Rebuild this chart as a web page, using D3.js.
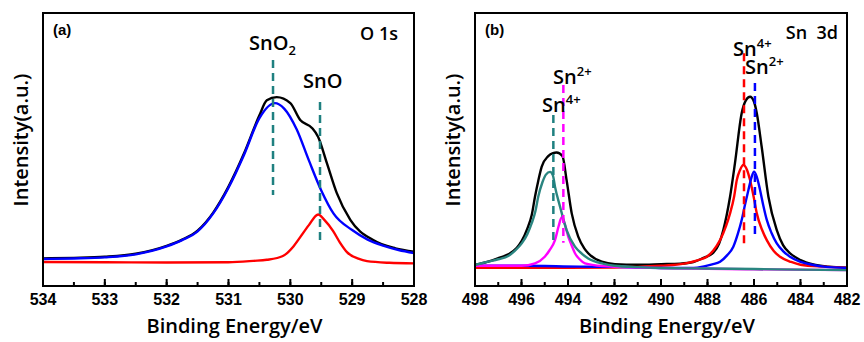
<!DOCTYPE html>
<html>
<head>
<meta charset="utf-8">
<script src="https://cdn.jsdelivr.net/npm/d3@7"></script>
<style>
  body { margin: 0; background: #fff; }
</style>
</head>
<body>
<div class="chart"></div>
<script>
// Panel (a) O 1s -- [binding energy (eV), intensity (a.u.)]
var o1sTotal = [[534,10.1],[533.5,10.3],[533,10.7],[532.5,11.8],[532,14.7],[531.75,17],[531.5,20.3],[531.25,26.8],[531,36.4],[530.75,48.5],[530.5,62.5],[530.38,68],[530.22,69.2],[530,67],[529.84,60.8],[529.65,57.9],[529.55,54.6],[529.41,45.1],[529.25,34.1],[529.03,24.2],[528.66,16.8],[528.3,13.8],[528,12.6]];
var o1sSnO2 = [[534,9.9],[533.5,10.1],[533,10.5],[532.5,11.6],[532,14.5],[531.75,16.8],[531.5,20],[531.25,26.5],[531,36],[530.75,48],[530.5,61.5],[530.25,67],[530.1,65],[529.9,57.5],[529.7,46],[529.5,35],[529.3,26.5],[529,20.5],[528.75,17],[528.5,14.8],[528.25,13.2],[528,12.1]];
var o1sSnO = [[534,8.8],[533,8.7],[532,8.6],[531,8.7],[530.6,9.2],[530.38,9.6],[530.12,11],[529.95,14.5],[529.84,17.9],[529.7,22.3],[529.55,26.2],[529.45,24.2],[529.31,20.2],[529.2,16],[529.08,12.3],[528.9,10],[528.76,9.1],[528.4,8.5],[528,8.3]];

// Panel (b) Sn 3d
var sn3dTotal = [[498,7.7],[497.4,9],[497,10.2],[496.57,11.6],[496.2,14],[495.99,16.5],[495.75,21],[495.56,26],[495.42,32.7],[495.28,38.5],[495.13,43.7],[494.85,47.6],[494.65,48.7],[494.49,48.9],[494.24,47.6],[494.06,38.8],[493.84,26.6],[493.56,18.1],[493.3,13.8],[493.13,12],[492.55,8.9],[491.98,8],[491,7.8],[490,8],[489.18,8.2],[488.61,8.8],[488.2,10.2],[487.75,12.2],[487.5,15.5],[487.32,20.5],[487.03,32.7],[486.82,44.9],[486.53,63.3],[486.35,68],[486.17,69.3],[486,67.5],[485.88,63.3],[485.67,51],[485.38,32.7],[485.02,20.5],[484.75,15],[484.45,12],[484,9.5],[483.45,7.9],[482.8,7.1],[482,6.7]];
var sn52Sn4 = [[498,7.7],[497.43,8.9],[497,9.8],[496.57,11],[496.3,12.8],[495.99,15.6],[495.75,19],[495.56,23],[495.4,27.5],[495.28,32.7],[495.1,38],[494.95,40.8],[494.77,41.8],[494.65,40.5],[494.56,36.4],[494.34,29],[494.06,20.5],[493.7,14.4],[493.4,11.8],[493.13,10.1],[492.5,8.2],[492,7.4],[491,6.9],[490,6.6],[488,6.4],[486,6.2],[484,6],[482,5.8]];
var sn52Sn2 = [[498,7.4],[496,7.4],[495.42,8.3],[495,10.7],[494.8,13],[494.56,16.8],[494.4,22],[494.27,25.2],[494.15,23],[493.99,18.1],[493.85,15],[493.7,12],[493.5,9.8],[493.27,8.3],[492.5,7.3],[491,6.8],[490,6.6],[488,6.3],[486,6.1],[482,5.8]];
var sn32Sn4 = [[498,6.7],[494,6.7],[492,6.8],[491,7],[490,7.4],[489.5,7.7],[488.89,8.4],[488.4,9.5],[488.03,10.7],[487.75,13],[487.46,16.8],[487.2,22],[487.03,26.6],[486.85,33],[486.74,38.8],[486.6,42.5],[486.46,44.3],[486.3,42.5],[486.17,38.8],[486,32],[485.88,26.6],[485.65,20.5],[485.45,16.8],[485.15,12.8],[484.88,10.7],[484.4,8.8],[484,7.8],[483,7.1],[482,6.7]];
var sn32Sn2 = [[498,7.4],[496,7.4],[493.5,7.1],[492,7],[491,6.8],[490,6.6],[488.6,6.6],[488.1,7.3],[487.8,7.9],[487.46,8.9],[487.15,11.3],[486.89,14.4],[486.7,19],[486.53,24.2],[486.38,30],[486.24,35.2],[486.1,40],[486,41.9],[485.88,40],[485.74,35.2],[485.6,29.5],[485.45,24.2],[485.25,19.5],[485.02,15.6],[484.75,12.8],[484.45,10.7],[484,8.8],[483.45,7.7],[483,7.1],[482,6.6]];

// peak marker lines -- [energy, top intensity, bottom intensity]
var markersA = [[530.28,82.8,33.3],[529.52,67.4,15.8]];
var markersB = [[494.63,62.6,15.8],[494.2,73.6,15.8],[486.43,85.3,14.3],[485.96,74.4,17.6]];

var ticksA = [534,533,532,531,530,529,528];
var ticksB = [498,496,494,492,490,488,486,484,482];

var teal = "#1f8080", width = 864, height = 342,
  plotTop = 13, plotBottom = 286;

var svg = d3.select(".chart").append("svg")
  .attr("width", width)
  .attr("height", height);

var y = d3.scaleLinear().domain([0, 100]).range([plotBottom, plotTop]);

function panel(left, right, domain, ticks, minorStep, series, markers, markerColors) {
  var x = d3.scaleLinear().domain(domain).range([left, right]);
  var g = svg.append("g");

  var line = d3.line()
    .x(function(d) { return x(d[0]); })
    .y(function(d) { return y(d[1]); })
    .curve(d3.curveMonotoneX);

  series.forEach(function(s) {
    g.append("path")
      .datum(s.data)
      .attr("d", line)
      .attr("fill", "none")
      .attr("stroke", s.color)
      .attr("stroke-width", 2.4)
      .attr("stroke-linejoin", "round");
  });

  g.selectAll(".marker")
    .data(markers)
    .enter().append("line")
      .attr("x1", function(d) { return x(d[0]); })
      .attr("x2", function(d) { return x(d[0]); })
      .attr("y1", function(d) { return y(d[1]); })
      .attr("y2", function(d) { return y(d[2]); })
      .attr("stroke", function(d, i) { return markerColors[i]; })
      .attr("stroke-width", 2.5)
      .attr("stroke-dasharray", "8,5");

  // minor + major ticks, pointing inward
  var minor = d3.range(domain[1], domain[0] + 0.001, minorStep);
  g.selectAll(".minor")
    .data(minor)
    .enter().append("line")
      .attr("x1", function(d) { return x(d); })
      .attr("x2", function(d) { return x(d); })
      .attr("y1", plotBottom)
      .attr("y2", plotBottom - 4)
      .attr("stroke", "#000")
      .attr("stroke-width", 2);

  g.selectAll(".major")
    .data(ticks)
    .enter().append("line")
      .attr("x1", function(d) { return x(d); })
      .attr("x2", function(d) { return x(d); })
      .attr("y1", plotBottom)
      .attr("y2", plotBottom - 7)
      .attr("stroke", "#000")
      .attr("stroke-width", 2);

  g.selectAll(".tick-label")
    .data(ticks)
    .enter().append("text")
      .attr("x", function(d) { return x(d); })
      .attr("y", plotBottom + 19)
      .attr("text-anchor", "middle")
      .style("font-family", "'Liberation Sans', Arial, sans-serif")
      .style("font-weight", "bold")
      .style("font-size", "16px")
      .text(function(d) { return d; });

  g.append("rect")
    .attr("x", left)
    .attr("y", plotTop)
    .attr("width", right - left)
    .attr("height", plotBottom - plotTop)
    .attr("fill", "none")
    .attr("stroke", "#000")
    .attr("stroke-width", 2);

  g.append("text")
    .attr("x", (left + right) / 2 + 6)
    .attr("y", plotBottom + 47)
    .attr("text-anchor", "middle")
    .style("font-family", "'Open Sans', sans-serif")
    .style("font-weight", 600)
    .style("font-size", "20px")
    .text("Binding Energy/eV");

  g.append("text")
    .attr("transform", "translate(" + (left - 15) + "," + 140 + ") rotate(-90)")
    .attr("text-anchor", "middle")
    .style("font-family", "'Open Sans', sans-serif")
    .style("font-weight", 600)
    .style("font-size", "20px")
    .text("Intensity(a.u.)");

  return { g: g, x: x };
}

var pa = panel(43, 414, [534, 528], ticksA, 0.5,
  [{data: o1sTotal, color: "#000"}, {data: o1sSnO2, color: "#0000ff"}, {data: o1sSnO, color: "#ff0000"}],
  markersA, [teal, teal]);

var pb = panel(475, 847, [498, 482], ticksB, 1,
  [{data: sn3dTotal, color: "#000"}, {data: sn32Sn4, color: "#ff0000"}, {data: sn32Sn2, color: "#0000ff"},
   {data: sn52Sn2, color: "#ff00ff"}, {data: sn52Sn4, color: "#2a8580"}],
  markersB, [teal, "#ff00ff", "#ff0000", "#0000ff"]);

// text labels
function label(g, x, yPos, main, script, shift, anchor, size) {
  var t = g.append("text")
    .attr("x", x)
    .attr("y", yPos)
    .attr("text-anchor", anchor || "start")
    .style("font-family", "'Open Sans', sans-serif")
    .style("font-weight", 600)
    .style("font-size", (size || 20) + "px")
    .style("white-space", "pre");
  t.append("tspan").text(main);
  if (script) {
    t.append("tspan")
      .attr("dy", shift)
      .style("font-size", "13px")
      .text(script);
  }
  return t;
}

function panelTag(g, x, text) {
  g.append("text")
    .attr("x", x)
    .attr("y", 35)
    .style("font-family", "'Liberation Sans', Arial, sans-serif")
    .style("font-weight", "bold")
    .style("font-size", "15px")
    .text(text);
}

panelTag(pa.g, 53, "(a)");
panelTag(pb.g, 485, "(b)");

label(pa.g, 398, 40, "O 1s", null, 0, "end", 18);
label(pa.g, 249, 50, "SnO", "2", 5);
label(pa.g, 303, 88, "SnO");

label(pb.g, 838, 39, "Sn\u00a0 3d", null, 0, "end", 18);
label(pb.g, 553, 84, "Sn", "2+", -8);
label(pb.g, 542, 112, "Sn", "4+", -8);
label(pb.g, 733, 56, "Sn", "4+", -8);
label(pb.g, 745, 74, "Sn", "2+", -8);
</script>
</body>
</html>
